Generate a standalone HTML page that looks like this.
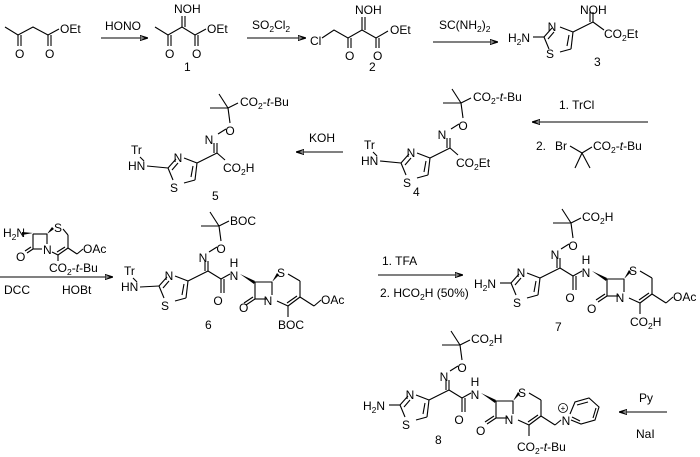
<!DOCTYPE html>
<html><head><meta charset="utf-8"><style>
html,body{margin:0;padding:0;background:#fff}
svg{display:block}
text{font-family:"Liberation Sans",Arial,sans-serif;font-size:12px;fill:#000}
.s{font-size:8.5px}
line,polyline,path{stroke:#000;stroke-width:1.1;fill:none}
.w{fill:#000;stroke:none}
.m{text-anchor:middle}
</style></head><body>
<svg width="700" height="457" viewBox="0 0 700 457" xmlns="http://www.w3.org/2000/svg">
<defs>
<marker id="ah" markerWidth="8" markerHeight="6" refX="7" refY="3" orient="auto" markerUnits="userSpaceOnUse">
<path d="M0,0.5 L8,3 L0,5.5 Z" fill="#000" stroke="none"/></marker>
<g id="tz">
<line x1="511" y1="283" x2="519" y2="274"/>
<line x1="515" y1="285" x2="521" y2="278"/>
<line x1="527" y1="273" x2="540" y2="278"/>
<line x1="540" y1="278" x2="538" y2="295"/>
<line x1="536" y1="281" x2="534" y2="292"/>
<line x1="538" y1="295" x2="527" y2="298"/>
<line x1="516" y1="295" x2="511" y2="283"/>
<line x1="540" y1="278" x2="560" y2="268"/>
<line x1="560" y1="268" x2="560" y2="258"/>
<line x1="557" y1="268" x2="557" y2="258"/>
</g>
<g id="oxq">
<line x1="561" y1="249" x2="569" y2="244"/>
<line x1="573" y1="238" x2="571" y2="223"/>
<line x1="571" y1="223" x2="562" y2="209"/>
<line x1="571" y1="223" x2="553" y2="223"/>
<line x1="571" y1="223" x2="581" y2="218"/>
</g>
<g id="core">
<use href="#tz"/><use href="#oxq"/>
<line x1="560" y1="268" x2="573" y2="276"/>
<line x1="573" y1="276" x2="573" y2="290"/>
<line x1="576" y1="276" x2="576" y2="290"/>
<line x1="573" y1="276" x2="582" y2="271"/>
<path class="w" d="M592,271 L607,278 L606,281 Z"/>
<line x1="607" y1="279" x2="624" y2="279"/>
<line x1="607" y1="279" x2="607" y2="296"/>
<line x1="624" y1="279" x2="624" y2="292"/>
<line x1="607" y1="296" x2="619" y2="296"/>
<line x1="607" y1="296" x2="598" y2="302"/>
<line x1="605" y1="294" x2="596" y2="300"/>
<path class="w" d="M624,279 L629,270 L631,272 Z"/>
<line x1="640" y1="271" x2="652" y2="278"/>
<line x1="652" y1="278" x2="652" y2="294"/>
<line x1="652" y1="294" x2="640" y2="303"/>
<line x1="649" y1="293" x2="639" y2="300"/>
<line x1="629" y1="298" x2="640" y2="303"/>
<line x1="640" y1="303" x2="640" y2="314"/>
<line x1="652" y1="294" x2="666" y2="303"/>
</g>
</defs>

<!-- Row 1 -->
<polyline points="5,27 18,35 33,27 48,35 59,29"/>
<line x1="18" y1="35" x2="18" y2="46"/><line x1="21" y1="35" x2="21" y2="46"/>
<line x1="48" y1="35" x2="48" y2="46"/><line x1="51" y1="35" x2="51" y2="46"/>
<text x="15" y="58">O</text><text x="45" y="58">O</text><text x="60" y="33">OEt</text>
<line x1="101" y1="38" x2="147" y2="38" marker-end="url(#ah)"/>
<text x="105" y="30">HONO</text>

<polyline points="155,27 168,35 182,27 195,35 206,29"/>
<line x1="182" y1="27" x2="182" y2="16"/><line x1="185" y1="27" x2="185" y2="16"/>
<line x1="168" y1="35" x2="168" y2="46"/><line x1="171" y1="35" x2="171" y2="46"/>
<line x1="195" y1="35" x2="195" y2="46"/><line x1="198" y1="35" x2="198" y2="46"/>
<text x="174" y="13">NOH</text>
<text x="165" y="58">O</text><text x="192" y="58">O</text><text x="207" y="33">OEt</text>
<text x="184" y="71">1</text>
<line x1="247" y1="38" x2="305" y2="38" marker-end="url(#ah)"/>
<text x="252" y="29">SO<tspan class="s" dy="3">2</tspan><tspan dy="-3">Cl</tspan><tspan class="s" dy="3">2</tspan></text>

<text x="310" y="45">Cl</text>
<polyline points="322,38 334,30 348,38 362,30 376,38 388,31"/>
<line x1="348" y1="38" x2="348" y2="48"/><line x1="351" y1="38" x2="351" y2="48"/>
<line x1="362" y1="30" x2="362" y2="17"/><line x1="365" y1="30" x2="365" y2="17"/>
<line x1="376" y1="38" x2="376" y2="48"/><line x1="379" y1="38" x2="379" y2="48"/>
<text x="355" y="14">NOH</text>
<text x="345" y="60">O</text><text x="373" y="60">O</text><text x="390" y="34">OEt</text>
<text x="369" y="71">2</text>
<line x1="433" y1="42" x2="497" y2="42" marker-end="url(#ah)"/>
<text x="439" y="29">SC(NH<tspan class="s" dy="3">2</tspan><tspan dy="-3">)</tspan><tspan class="s" dy="3">2</tspan></text>

<g transform="translate(33,-246)"><use href="#tz"/></g>
<text x="508" y="42">H<tspan class="s" dy="3">2</tspan><tspan dy="-3">N</tspan></text>
<line x1="533" y1="37" x2="544" y2="37"/>
<text x="552" y="31" class="m">N</text><text x="550" y="58" class="m">S</text>
<text x="580" y="14">NOH</text>
<line x1="593" y1="22" x2="604" y2="30"/>
<text x="604" y="38">CO<tspan class="s" dy="3">2</tspan><tspan dy="-3">Et</tspan></text>
<text x="594" y="66">3</text>

<!-- Row 2 -->
<g transform="translate(-343,-115)"><use href="#tz"/><use href="#oxq"/></g>
<text x="131" y="154">Tr</text><text x="128" y="170">HN</text>
<line x1="140" y1="157" x2="144" y2="161"/>
<line x1="147" y1="166" x2="168" y2="168"/>
<text x="178" y="162" class="m">N</text><text x="174" y="192" class="m">S</text>
<text x="209" y="144" class="m">N</text><text x="230" y="135" class="m">O</text>
<text x="240" y="106">CO<tspan class="s" dy="3">2</tspan><tspan dy="-3">-</tspan><tspan font-style="italic">t</tspan>-Bu</text>
<line x1="217" y1="153" x2="225" y2="160"/>
<text x="223" y="172">CO<tspan class="s" dy="3">2</tspan><tspan dy="-3">H</tspan></text>
<text x="212" y="200">5</text>
<line x1="343" y1="152" x2="297" y2="152" marker-end="url(#ah)"/>
<text x="309" y="142">KOH</text>

<g transform="translate(-110,-120)"><use href="#tz"/><use href="#oxq"/></g>
<text x="364" y="149">Tr</text><text x="361" y="165">HN</text>
<line x1="373" y1="152" x2="377" y2="156"/>
<line x1="380" y1="161" x2="401" y2="163"/>
<text x="411" y="157" class="m">N</text><text x="407" y="187" class="m">S</text>
<text x="442" y="139" class="m">N</text><text x="463" y="130" class="m">O</text>
<text x="473" y="101">CO<tspan class="s" dy="3">2</tspan><tspan dy="-3">-</tspan><tspan font-style="italic">t</tspan>-Bu</text>
<line x1="450" y1="148" x2="458" y2="155"/>
<text x="456" y="167">CO<tspan class="s" dy="3">2</tspan><tspan dy="-3">Et</tspan></text>
<text x="413" y="196">4</text>
<line x1="648" y1="122" x2="533" y2="122" marker-end="url(#ah)"/>
<text x="559" y="109">1. TrCl</text>
<text x="536" y="150">2.</text><text x="555" y="150">Br</text>
<line x1="570" y1="146" x2="582" y2="153"/>
<line x1="582" y1="153" x2="592" y2="147"/>
<line x1="582" y1="153" x2="575" y2="168"/>
<line x1="582" y1="153" x2="590" y2="168"/>
<text x="593" y="150">CO<tspan class="s" dy="3">2</tspan><tspan dy="-3">-</tspan><tspan font-style="italic">t</tspan>-Bu</text>

<!-- Row 3 reagent -->
<text x="3" y="237">H<tspan class="s" dy="3">2</tspan><tspan dy="-3">N</tspan></text>
<path class="w" d="M22,232 L33,233 L22,235 Z"/>
<line x1="33" y1="234" x2="47" y2="234"/>
<line x1="33" y1="234" x2="33" y2="249"/>
<line x1="47" y1="234" x2="47" y2="244"/>
<line x1="33" y1="249" x2="42" y2="249"/>
<line x1="33" y1="249" x2="27" y2="253"/><line x1="31" y1="247" x2="25" y2="251"/>
<text x="16" y="261">O</text><text x="43" y="254">N</text>
<path class="w" d="M47,234 L52,227 L54,229 Z"/>
<text x="54" y="232">S</text>
<line x1="63" y1="229" x2="68" y2="235"/>
<line x1="68" y1="235" x2="68" y2="248"/>
<line x1="68" y1="248" x2="58" y2="255"/><line x1="65" y1="247" x2="57" y2="252"/>
<line x1="52" y1="252" x2="58" y2="255"/>
<line x1="58" y1="255" x2="58" y2="261"/>
<line x1="68" y1="248" x2="77" y2="254"/><line x1="77" y1="254" x2="83" y2="249"/>
<text x="83" y="253">OAc</text>
<text x="49" y="272">CO<tspan class="s" dy="3">2</tspan><tspan dy="-3">-</tspan><tspan font-style="italic">t</tspan>-Bu</text>
<line x1="0" y1="277" x2="112" y2="277" marker-end="url(#ah)"/>
<text x="4" y="294">DCC</text><text x="62" y="294">HOBt</text>

<!-- Compound 6 -->
<g transform="translate(-352,3)"><use href="#core"/></g>
<text x="124" y="275">Tr</text><text x="121" y="291">HN</text>
<line x1="133" y1="278" x2="137" y2="282"/>
<line x1="140" y1="287" x2="159" y2="286"/>
<text x="169" y="280" class="m">N</text><text x="165" y="310" class="m">S</text>
<text x="203" y="262" class="m">N</text><text x="221" y="253" class="m">O</text>
<text x="230" y="225">BOC</text>
<text x="218" y="305" class="m">O</text>
<text x="234" y="280" class="m">N</text><text x="234" y="267" class="m">H</text>
<text x="239" y="312">O</text><text x="268" y="305" class="m">N</text>
<text x="281" y="277" class="m">S</text>
<line x1="314" y1="306" x2="321" y2="300"/>
<text x="321" y="304">OAc</text>
<text x="278" y="329">BOC</text>
<text x="205" y="329">6</text>
<line x1="378" y1="275" x2="462" y2="275" marker-end="url(#ah)"/>
<text x="382" y="265">1. TFA</text>
<text x="380" y="297">2. HCO<tspan class="s" dy="3">2</tspan><tspan dy="-3">H (50%)</tspan></text>

<!-- Compound 7 -->
<use href="#core"/>
<text x="474" y="288">H<tspan class="s" dy="3">2</tspan><tspan dy="-3">N</tspan></text>
<line x1="500" y1="283" x2="511" y2="283"/>
<text x="521" y="277" class="m">N</text><text x="517" y="307" class="m">S</text>
<text x="555" y="259" class="m">N</text><text x="573" y="250" class="m">O</text>
<text x="582" y="221">CO<tspan class="s" dy="3">2</tspan><tspan dy="-3">H</tspan></text>
<text x="570" y="302" class="m">O</text>
<text x="586" y="277" class="m">N</text><text x="586" y="264" class="m">H</text>
<text x="587" y="313">O</text><text x="620" y="302" class="m">N</text>
<text x="633" y="275" class="m">S</text>
<line x1="666" y1="303" x2="673" y2="297"/>
<text x="673" y="301">OAc</text>
<text x="630" y="326">CO<tspan class="s" dy="3">2</tspan><tspan dy="-3">H</tspan></text>
<text x="555" y="331">7</text>

<!-- Compound 8 -->
<g transform="translate(-111,122)"><use href="#core"/></g>
<text x="363" y="410">H<tspan class="s" dy="3">2</tspan><tspan dy="-3">N</tspan></text>
<line x1="389" y1="405" x2="400" y2="405"/>
<text x="410" y="399" class="m">N</text><text x="406" y="429" class="m">S</text>
<text x="444" y="381" class="m">N</text><text x="462" y="372" class="m">O</text>
<text x="471" y="343">CO<tspan class="s" dy="3">2</tspan><tspan dy="-3">H</tspan></text>
<text x="459" y="424" class="m">O</text>
<text x="475" y="399" class="m">N</text><text x="475" y="386" class="m">H</text>
<text x="476" y="435">O</text><text x="509" y="424" class="m">N</text>
<text x="522" y="397" class="m">S</text>
<line x1="555" y1="425" x2="561" y2="420"/>
<text x="566" y="425" class="m">N</text>
<circle cx="563" cy="408" r="4.5" stroke="#000" stroke-width="0.8" fill="none"/>
<text x="563" y="411" class="m" style="font-size:8px">+</text>
<polyline points="570,414 575,402 589,398 599,407 595,420 581,424 571,420"/>
<line x1="577" y1="405" x2="588" y2="402"/>
<line x1="596" y1="408" x2="593" y2="418"/>
<line x1="580" y1="421" x2="572" y2="417"/>
<text x="517" y="451">CO<tspan class="s" dy="3">2</tspan><tspan dy="-3">-</tspan><tspan font-style="italic">t</tspan>-Bu</text>
<text x="435" y="444">8</text>
<line x1="667" y1="412" x2="620" y2="412" marker-end="url(#ah)"/>
<text x="639" y="402">Py</text><text x="636" y="438">NaI</text>
</svg>
</body></html>
